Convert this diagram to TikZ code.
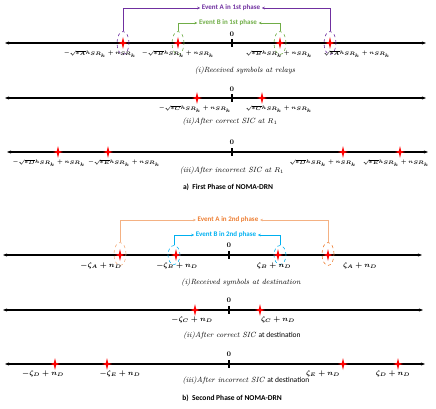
\documentclass[tikz,border=0pt]{standalone}
\usepackage{amsmath}
\usepackage{fontspec}
\newfontfamily\calib{Carlito}
\usetikzlibrary{shapes.geometric,arrows.meta}
\definecolor{evpurple}{HTML}{7030A0}
\definecolor{evgreen}{HTML}{70AD47}
\definecolor{evorange}{HTML}{ED7D31}
\definecolor{evorangel}{HTML}{F4B183}
\definecolor{evblue}{HTML}{00B0F0}
\begin{document}
\begin{tikzpicture}[x=1pt,y=-1pt,
  axisline/.style={line width=1.1pt,{Stealth[length=4pt,width=3pt]}-{Stealth[length=4pt,width=3pt]}},
  tickmark/.style={line width=1.2pt},
  zero/.style={font=\bfseries\fontsize{7}{8}\selectfont,inner sep=0pt},
  lbl/.style={font=\boldmath\fontsize{5.4}{7}\selectfont,inner sep=0pt},
  lblz/.style={font=\boldmath\fontsize{6.6}{8}\selectfont,inner sep=0pt},
  capt/.style={font=\itshape\fontsize{7.5}{9}\selectfont,inner sep=0pt},
  ttl/.style={font=\calib\bfseries\fontsize{7.5}{9}\selectfont,inner sep=0pt},
  evt/.style={font=\calib\bfseries\fontsize{7}{8}\selectfont,inner sep=1.5pt},
  ring/.style={ellipse,draw,dashed,minimum width=12pt,minimum height=23pt,inner sep=0pt,line width=0.6pt},
  evline/.style={line width=0.8pt,-{Stealth[length=3pt,width=2.5pt]}},
  rstar/.pic={\fill[red] (0,-6) -- (1.1,-1.1) -- (5,0) -- (1.1,1.1) -- (0,6) -- (-1.1,1.1) -- (-5,0) -- (-1.1,-1.1) -- cycle;}
]
\useasboundingbox (0,0) rectangle (436,409);

% ---------- Axis 1 ----------
\coordinate (a1L) at (5,43); \coordinate (a1R) at (426,43);
\draw[axisline] (a1L) -- (a1R);
\draw[tickmark] (232,39) -- (232,47);
\node[zero] (z1) at (232,34) {0};
\pic at (123,43) {rstar}; \pic at (178,43) {rstar};
\pic at (280,43) {rstar}; \pic at (330,43) {rstar};
\node[ring,draw=evpurple] (eA1) at (123,43) {};
\node[ring,draw=evgreen] (eB1) at (178,43) {};
\node[ring,draw=evgreen] (eB2) at (280,43) {};
\node[ring,draw=evpurple] (eA2) at (330,43) {};
\node[evt,text=evpurple] (evA1) at (231,8) {Event A in 1st phase};
\node[evt,text=evgreen] (evB1) at (228,23) {Event B in 1st phase};
\draw[evline,evpurple] (eA1.north) |- (evA1.west);
\draw[evline,evpurple] (eA2.north) |- (evA1.east);
\draw[evline,evgreen] (eB1.north) |- (evB1.west);
\draw[evline,evgreen] (eB2.north) |- (evB1.east);
\node[lbl] (l11) at (100,54) {$-\sqrt{\varepsilon_A}h_{SR_k}+n_{SR_k}$};
\node[lbl] (l12) at (178,54) {$-\sqrt{\varepsilon_B}h_{SR_k}+n_{SR_k}$};
\node[lbl] (l13) at (279,54) {$\sqrt{\varepsilon_B}h_{SR_k}+n_{SR_k}$};
\node[lbl] (l14) at (357,54) {$\sqrt{\varepsilon_A}h_{SR_k}+n_{SR_k}$};
\node[capt] (c1) at (245,71) {(i)Received symbols at relays};

% ---------- Axis 2 ----------
\coordinate (a2L) at (5,98); \coordinate (a2R) at (426,98);
\draw[axisline] (a2L) -- (a2R);
\draw[tickmark] (232,94) -- (232,102);
\node[zero] (z2) at (232,89) {0};
\pic at (197,98) {rstar}; \pic at (262,98) {rstar};
\node[lbl] (l21) at (195,109) {$-\sqrt{\varepsilon_C}h_{SR_k}+n_{SR_k}$};
\node[lbl] (l22) at (279,109) {$\sqrt{\varepsilon_C}h_{SR_k}+n_{SR_k}$};
\node[capt] (c2) at (230,122) {(ii)After correct SIC at $R_1$};

% ---------- Axis 3 ----------
\coordinate (a3L) at (7,152); \coordinate (a3R) at (428,152);
\draw[axisline] (a3L) -- (a3R);
\draw[tickmark] (232,148) -- (232,156);
\node[zero] (z3) at (232,142) {0};
\pic at (58,152) {rstar}; \pic at (108,152) {rstar};
\pic at (343,152) {rstar}; \pic at (400,152) {rstar};
\node[lbl] (l31) at (49,163) {$-\sqrt{\varepsilon_D}h_{SR_k}+n_{SR_k}$};
\node[lbl] (l32) at (124,163) {$-\sqrt{\varepsilon_E}h_{SR_k}+n_{SR_k}$};
\node[lbl] (l33) at (323,163) {$\sqrt{\varepsilon_D}h_{SR_k}+n_{SR_k}$};
\node[lbl] (l34) at (396,163) {$\sqrt{\varepsilon_E}h_{SR_k}+n_{SR_k}$};
\node[capt] (c3) at (232,171) {(iii)After incorrect SIC at $R_1$};
\node[ttl] (t1) at (228,187) {a)\ \ First Phase of NOMA-DRN};

% ---------- Axis 4 ----------
\coordinate (a4L) at (3,255); \coordinate (a4R) at (422,255);
\draw[axisline] (a4L) -- (a4R);
\draw[tickmark] (229,251) -- (229,259);
\node[zero] (z4) at (229,245) {0};
\pic at (120,255) {rstar}; \pic at (176,255) {rstar};
\pic at (278,255) {rstar}; \pic at (328,255) {rstar};
\node[ring,draw=evorangel] (eA3) at (120,254) {};
\node[ring,draw=evblue,minimum height=19pt] (eB3) at (174,255) {};
\node[ring,draw=evblue,minimum height=19pt] (eB4) at (280,255) {};
\node[ring,draw=evorange] (eA4) at (328,254) {};
\node[evt,text=evorange] (evA2) at (228,220) {Event A in 2nd phase};
\node[evt,text=evblue] (evB2) at (226,235) {Event B in 2nd phase};
\draw[evline,evorangel] (eA3.north) |- (evA2.west);
\draw[evline,evorangel] (eA4.north) |- (evA2.east);
\draw[evline,evblue] (eB3.north) |- (evB2.west);
\draw[evline,evblue] (eB4.north) |- (evB2.east);
\node[lblz] (l41) at (101,266) {$-\zeta_A+n_D$};
\node[lblz] (l42) at (177,266) {$-\zeta_B+n_D$};
\node[lblz] (l43) at (274,266) {$\zeta_B+n_D$};
\node[lblz] (l44) at (360,266) {$\zeta_A+n_D$};
\node[capt] (c4) at (241,283) {(i)Received symbols at destination};

% ---------- Axis 5 ----------
\coordinate (a5L) at (3,310); \coordinate (a5R) at (423,310);
\draw[axisline] (a5L) -- (a5R);
\draw[tickmark] (229,306) -- (229,314);
\node[zero] (z5) at (229,300) {0};
\pic at (195,310) {rstar}; \pic at (260,310) {rstar};
\node[lblz] (l51) at (192,320) {$-\zeta_C+n_D$};
\node[lblz] (l52) at (278,320) {$\zeta_C+n_D$};
\node[capt] (c5) at (242,336) {(ii)After correct SIC {\upshape\calib at destination}};

% ---------- Axis 6 ----------
\coordinate (a6L) at (5,364); \coordinate (a6R) at (425,364);
\draw[axisline] (a6L) -- (a6R);
\draw[tickmark] (229,360) -- (229,368);
\node[zero] (z6) at (229,354) {0};
\pic at (55,364) {rstar}; \pic at (107,364) {rstar};
\pic at (343,364) {rstar}; \pic at (398,364) {rstar};
\node[lblz] (l61) at (43,374) {$-\zeta_D+n_D$};
\node[lblz] (l62) at (120,374) {$-\zeta_E+n_D$};
\node[lblz] (l63) at (323,374) {$\zeta_E+n_D$};
\node[lblz] (l64) at (393,374) {$\zeta_D+n_D$};
\node[capt] (c6) at (246,381) {(iii)After incorrect SIC {\upshape\calib at destination}};
\node[ttl] (t2) at (232,398) {b)\ \ Second Phase of NOMA-DRN};
\end{tikzpicture}
\end{document}
